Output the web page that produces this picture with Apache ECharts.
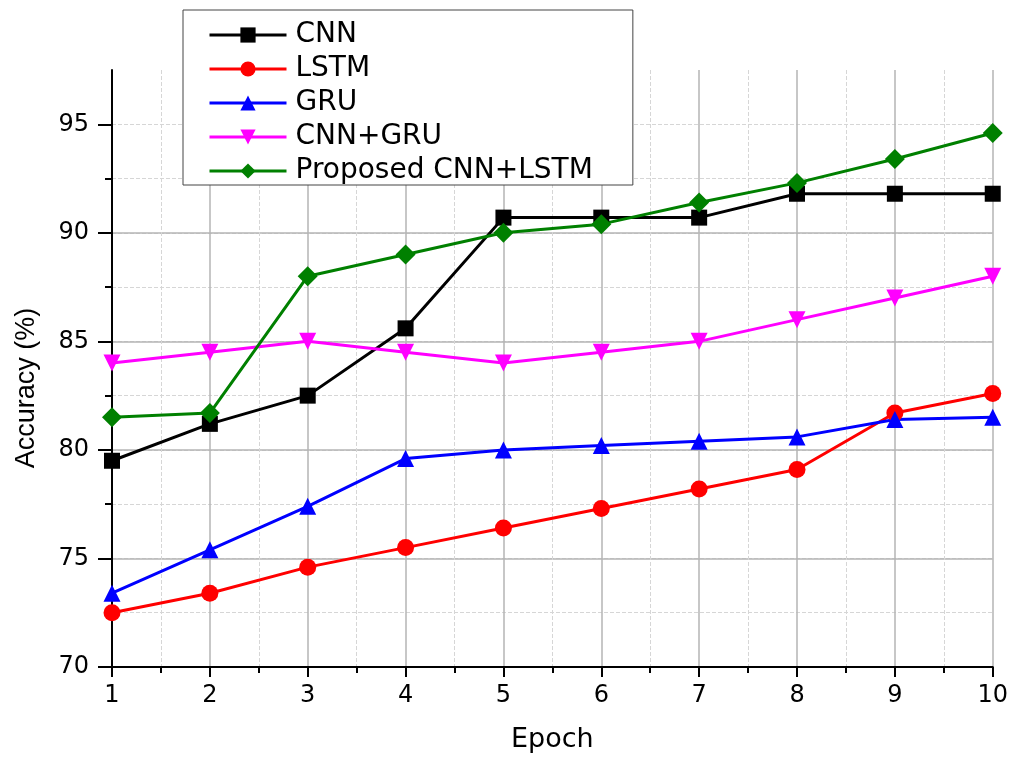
<!DOCTYPE html>
<html>
<head>
<meta charset="utf-8">
<script src="https://cdn.jsdelivr.net/npm/echarts@6/dist/echarts.min.js"></script>
<style>
  html, body { margin: 0; padding: 0; background: #fff; }
  #chart { width: 1011px; height: 758px; }
</style>
</head>
<body>
<div id="chart"></div>
<script>
  // epochs on the x axis
  var epochs = [1, 2, 3, 4, 5, 6, 7, 8, 9, 10];
  // accuracy (%) per model
  var cnn = [79.5, 81.2, 82.5, 85.6, 90.7, 90.7, 90.7, 91.8, 91.8, 91.8];
  var lstm = [72.5, 73.4, 74.6, 75.5, 76.4, 77.3, 78.2, 79.1, 81.7, 82.6];
  var gru = [73.4, 75.4, 77.4, 79.6, 80.0, 80.2, 80.4, 80.6, 81.4, 81.5];
  var cnnGru = [84.0, 84.5, 85.0, 84.5, 84.0, 84.5, 85.0, 86.0, 87.0, 88.0];
  var proposed = [81.5, 81.7, 88.0, 89.0, 90.0, 90.4, 91.4, 92.3, 93.4, 94.6];
  var yTicks = [70, 75, 80, 85, 90, 95];

  var font = 'DejaVu Sans, sans-serif';

  function pairs(vals) {
    return epochs.map(function (e, i) { return [e, vals[i]]; });
  }

  function makeSeries(name, vals, color, symbol, size) {
    return {
      name: name,
      type: 'line',
      data: pairs(vals),
      symbol: symbol,
      symbolSize: size,
      lineStyle: {color: color, width: 3},
      itemStyle: {color: color},
      z: 5
    };
  }

  var chart = echarts.init(document.getElementById('chart'));
  var option = {
    animation: false,
    backgroundColor: '#fff',
    grid: {left: 112, right: 15, top: 70, bottom: 90},
    legend: {
      orient: 'vertical',
      left: 183,
      top: 10,
      padding: [11, 40, 0, 25],
      backgroundColor: '#fff',
      borderColor: '#444',
      borderWidth: 1,
      itemWidth: 77,
      itemHeight: 19,
      itemGap: 6,
      lineStyle: {width: 3},
      textStyle: {fontFamily: font, fontSize: 28, lineHeight: 28, color: '#000', padding: [0, 0, 0, 4]},
      data: ['CNN', 'LSTM', 'GRU', 'CNN+GRU', 'Proposed CNN+LSTM']
    },
    graphic: [{
      type: 'text',
      x: 27,
      y: 388,
      rotation: Math.PI / 2,
      style: {
        text: 'Accuracy (%)',
        fontFamily: 'Liberation Sans, Arial, sans-serif',
        fontSize: 27,
        fill: '#000',
        align: 'center',
        verticalAlign: 'middle'
      }
    }],
    xAxis: {
      type: 'value',
      min: 1,
      max: 10,
      interval: 1,
      name: 'Epoch',
      nameLocation: 'middle',
      nameGap: 59,
      nameTextStyle: {fontFamily: font, fontSize: 27, color: '#000'},
      axisLine: {show: true, lineStyle: {color: '#000', width: 2}},
      axisTick: {show: true, inside: false, length: 10, lineStyle: {color: '#000', width: 2}},
      minorTick: {show: true, splitNumber: 2, length: 6, lineStyle: {color: '#000', width: 2}},
      axisLabel: {fontFamily: font, fontSize: 24, color: '#000', margin: 17},
      splitLine: {show: true, showMinLine: false, lineStyle: {color: '#b4b4b4', width: 1.5}},
      minorSplitLine: {show: true, lineStyle: {color: '#d6d6d6', type: 'dashed', width: 1}}
    },
    yAxis: [
      {
        // data axis: minor grid every 2.5
        type: 'value',
        min: 70,
        max: 97.5,
        interval: 2.5,
        position: 'left',
        axisLine: {show: true, lineStyle: {color: '#000', width: 2}},
        axisTick: {show: true, inside: false, length: 7, lineStyle: {color: '#000', width: 2}},
        axisLabel: {
          fontFamily: font, fontSize: 24, color: '#000', margin: 23,
          showMaxLabel: false,
          formatter: function (v) { return v % 5 === 0 ? String(v) : ''; }
        },
        splitLine: {show: true, showMinLine: false, showMaxLine: false,
          lineStyle: {color: '#d6d6d6', type: 'dashed', width: 1}}
      },
      {
        // major grid every 5
        type: 'value',
        min: 70,
        max: 97.5,
        interval: 5,
        position: 'left',
        axisLine: {show: false},
        axisTick: {show: true, inside: false, length: 14, customValues: yTicks,
          lineStyle: {color: '#000', width: 2}},
        axisLabel: {show: false},
        splitLine: {show: true, showMinLine: false, showMaxLine: false,
          lineStyle: {color: '#b4b4b4', width: 1.5}}
      }
    ],
    series: [
      makeSeries('CNN', cnn, '#000000', 'rect', 16),
      makeSeries('LSTM', lstm, '#ff0000', 'circle', 17),
      makeSeries('GRU', gru, '#0000ff', 'triangle', 17),
      makeSeries('CNN+GRU', cnnGru, '#ff00ff', 'path://M0,0 L10,0 L5,9 Z', 17),
      makeSeries('Proposed CNN+LSTM', proposed, '#008000', 'diamond', 20)
    ]
  };
  chart.setOption(option);
  window.addEventListener('resize', function () {
    chart.resize();
  });
</script>
</body>
</html>
